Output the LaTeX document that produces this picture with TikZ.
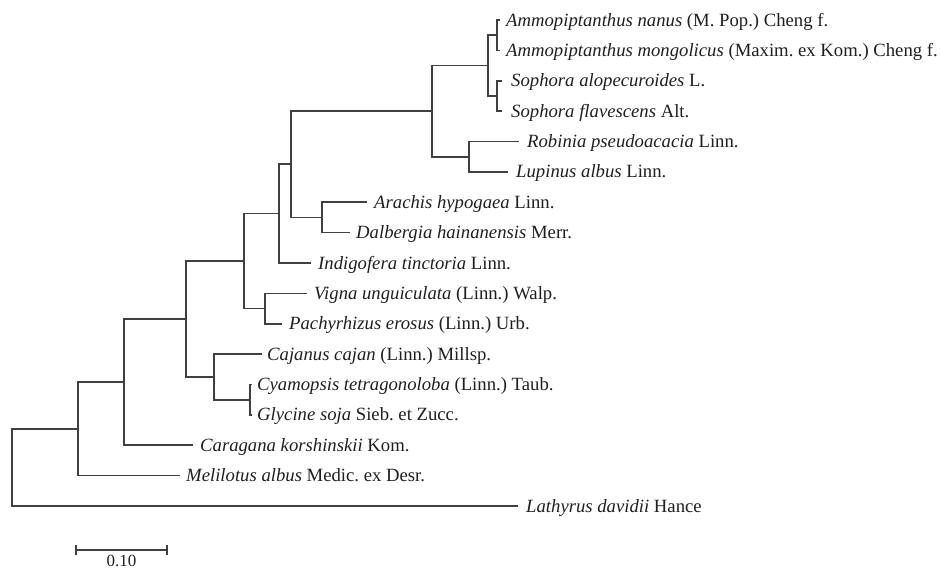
\documentclass[tikz,border=0pt]{standalone}
\usepackage{fontspec}
\setmainfont{Liberation Serif}
\usetikzlibrary{positioning,arrows.meta}
\frenchspacing
\definecolor{branchgray}{gray}{0.25}
\definecolor{labelgray}{gray}{0.12}
\tikzset{
  branch/.style={draw=branchgray, line width=1.7pt},
  taxon/.style={text=labelgray, inner sep=0pt, font=\fontsize{18.7}{22}\selectfont,
    text height=12.5pt, text depth=0.5pt},
  scalelabel/.style={text=labelgray, inner sep=0pt, font=\fontsize{17}{20}\selectfont,
    text height=11.5pt, text depth=0pt},
}
\begin{document}
\begin{tikzpicture}[x=1pt,y=-1pt]
  \useasboundingbox (0,0) rectangle (940,570);
  \clip (0,0) rectangle (940,570);
  % tips
  \coordinate (T1) at (500,20.0);
  \coordinate (T2) at (500,50.4);
  \coordinate (T3) at (502,80.8);
  \coordinate (T4) at (502,111.1);
  \coordinate (T5) at (519,141.5);
  \coordinate (T6) at (508,171.9);
  \coordinate (T7) at (367,202.3);
  \coordinate (T8) at (350,232.6);
  \coordinate (T9) at (311,263.0);
  \coordinate (T10) at (307,293.4);
  \coordinate (T11) at (282,323.8);
  \coordinate (T12) at (262,354.1);
  \coordinate (T13) at (252,384.5);
  \coordinate (T14) at (252,414.9);
  \coordinate (T15) at (193,445.3);
  \coordinate (T16) at (180,475.6);
  \coordinate (T17) at (518,506.0);
  % inner nodes
  \coordinate (R) at (12,467.4);
  \coordinate (N1) at (78,428.9);
  \coordinate (N2) at (124,382.1);
  \coordinate (N3) at (186,319.0);
  \coordinate (N4) at (244,261.1);
  \coordinate (N5) at (214,376.9);
  \coordinate (N6) at (250,399.7);
  \coordinate (N7) at (279,213.6);
  \coordinate (N8) at (265,308.6);
  \coordinate (N9) at (291,164.3);
  \coordinate (N10) at (432,111.1);
  \coordinate (N11) at (322,217.4);
  \coordinate (N12) at (488,65.6);
  \coordinate (N13) at (469,156.7);
  \coordinate (N14) at (497,35.2);
  \coordinate (N15) at (497,95.9);
  % branches
  \draw[branch] (R) |- (N1);
  \draw[branch] (R) |- (T17);
  \draw[branch] (N1) |- (N2);
  \draw[branch] (N1) |- (T16);
  \draw[branch] (N2) |- (N3);
  \draw[branch] (N2) |- (T15);
  \draw[branch] (N3) |- (N4);
  \draw[branch] (N3) |- (N5);
  \draw[branch] (N4) |- (N7);
  \draw[branch] (N4) |- (N8);
  \draw[branch] (N5) |- (T12);
  \draw[branch] (N5) |- (N6);
  \draw[branch] (N6) |- (T13);
  \draw[branch] (N6) |- (T14);
  \draw[branch] (N7) |- (N9);
  \draw[branch] (N7) |- (T9);
  \draw[branch] (N8) |- (T10);
  \draw[branch] (N8) |- (T11);
  \draw[branch] (N9) |- (N10);
  \draw[branch] (N9) |- (N11);
  \draw[branch] (N10) |- (N12);
  \draw[branch] (N10) |- (N13);
  \draw[branch] (N11) |- (T7);
  \draw[branch] (N11) |- (T8);
  \draw[branch] (N12) |- (N14);
  \draw[branch] (N12) |- (N15);
  \draw[branch] (N13) |- (T5);
  \draw[branch] (N13) |- (T6);
  \draw[branch] (N14) |- (T1);
  \draw[branch] (N14) |- (T2);
  \draw[branch] (N15) |- (T3);
  \draw[branch] (N15) |- (T4);
  % labels
  \node[taxon, right=6pt of T1] (L1) {\textit{Ammopiptanthus nanus} (M. Pop.) Cheng f.};
  \node[taxon, right=6pt of T2] (L2) {\textit{Ammopiptanthus mongolicus} (Maxim. ex Kom.) Cheng f.};
  \node[taxon, right=9pt of T3] (L3) {\textit{Sophora alopecuroides} L.};
  \node[taxon, right=9pt of T4] (L4) {\textit{Sophora flavescens} Alt.};
  \node[taxon, right=8pt of T5] (L5) {\textit{Robinia pseudoacacia} Linn.};
  \node[taxon, right=8pt of T6] (L6) {\textit{Lupinus albus} Linn.};
  \node[taxon, right=7pt of T7] (L7) {\textit{Arachis hypogaea} Linn.};
  \node[taxon, right=6pt of T8] (L8) {\textit{Dalbergia hainanensis} Merr.};
  \node[taxon, right=7pt of T9] (L9) {\textit{Indigofera tinctoria} Linn.};
  \node[taxon, right=7pt of T10] (L10) {\textit{Vigna unguiculata} (Linn.) Walp.};
  \node[taxon, right=7pt of T11] (L11) {\textit{Pachyrhizus erosus} (Linn.) Urb.};
  \node[taxon, right=5pt of T12] (L12) {\textit{Cajanus cajan} (Linn.) Millsp.};
  \node[taxon, right=5pt of T13] (L13) {\textit{Cyamopsis tetragonoloba} (Linn.) Taub.};
  \node[taxon, right=5pt of T14] (L14) {\textit{Glycine soja} Sieb. et Zucc.};
  \node[taxon, right=7pt of T15] (L15) {\textit{Caragana korshinskii} Kom.};
  \node[taxon, right=6pt of T16] (L16) {\textit{Melilotus albus} Medic. ex Desr.};
  \node[taxon, right=8pt of T17] (L17) {\textit{Lathyrus davidii} Hance};
  % scale bar
  \coordinate (S1) at (75,550);
  \coordinate (S2) at (168,550);
  \coordinate (S) at (121.5,550);
  \draw[branch, {Bar[width=10pt]}-{Bar[width=10pt]}] (S1) -- (S2);
  \node[scalelabel, below=4.5pt of S] (SL) {0.10};
\end{tikzpicture}
\end{document}
